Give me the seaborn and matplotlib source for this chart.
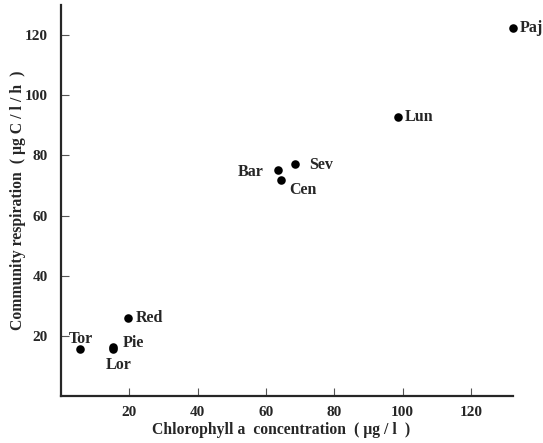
import matplotlib
matplotlib.use("Agg")
import matplotlib.pyplot as plt
import seaborn as sns
import pandas as pd

# data
sites = ["Paj", "Lun", "Sev", "Bar", "Cen", "Red", "Tor", "Pie", "Lor"]
chl_a = [132.2, 98.7, 68.5, 63.4, 64.4, 19.5, 5.7, 15.3, 15.3]
resp = [122.2, 92.8, 77.2, 75.2, 71.9, 25.9, 15.7, 16.4, 15.7]

# label offsets in points (dx, dy, ha)
offsets = {
    "Paj": (5, 0, "left"),
    "Lun": (5, 0, "left"),
    "Sev": (10, -1, "left"),
    "Bar": (-10, -1.5, "right"),
    "Cen": (6, -7.5, "left"),
    "Red": (5.5, 0, "left"),
    "Tor": (0.5, 7, "center"),
    "Pie": (7, 3, "left"),
    "Lor": (4, -11.5, "center"),
}

sns.set_style("ticks")
plt.rcParams["font.family"] = ["Liberation Serif", "DejaVu Serif"]
plt.rcParams["font.weight"] = "bold"
plt.rcParams["axes.labelweight"] = "bold"

df = pd.DataFrame({"site": sites, "chl": chl_a, "resp": resp})

fig = plt.figure(figsize=(5.43, 4.43), dpi=100)
ax = fig.add_axes([61 / 543, 1 - 396 / 443, (513 - 61) / 543, (396 - 5) / 443])

sns.scatterplot(data=df, x="chl", y="resp", color="black", s=38,
                edgecolor="black", linewidth=0, ax=ax)
for c in ax.collections:
    c.set_clip_on(False)

for s, x, y in zip(sites, chl_a, resp):
    dx, dy, ha = offsets[s]
    ax.annotate(s, (x, y), xytext=(dx, dy), textcoords="offset points",
                ha=ha, va="center", fontsize=11.5, fontweight="bold",
                annotation_clip=False)

ax.set_xlim(0, 132.3)
ax.set_ylim(0, 130)
ax.set_xticks([20, 40, 60, 80, 100, 120])
ax.set_yticks([20, 40, 60, 80, 100, 120])
ax.tick_params(direction="in", length=5.5, width=0.8, color="#555555", labelsize=11)
ax.tick_params(axis="x", pad=7)
ax.tick_params(axis="y", pad=9.5)
for lbl in ax.get_xticklabels() + ax.get_yticklabels():
    lbl.set_fontweight("bold")

sns.despine(ax=ax)
ax.spines["left"].set_linewidth(1.6)
ax.spines["bottom"].set_linewidth(1.6)

ax.set_xlabel("Chlorophyll a  concentration  ( \u03bcg / l  )", fontsize=11.3)
ax.xaxis.set_label_coords((281 - 61) / (513 - 61), -(422 - 396) / 391)
ax.set_ylabel("Community respiration  ( \u03bcg C / l / h  )", fontsize=11.3)
ax.yaxis.set_label_coords(-(61 - 26) / 452, 0.5)

fig.savefig("out.png", dpi=100)
